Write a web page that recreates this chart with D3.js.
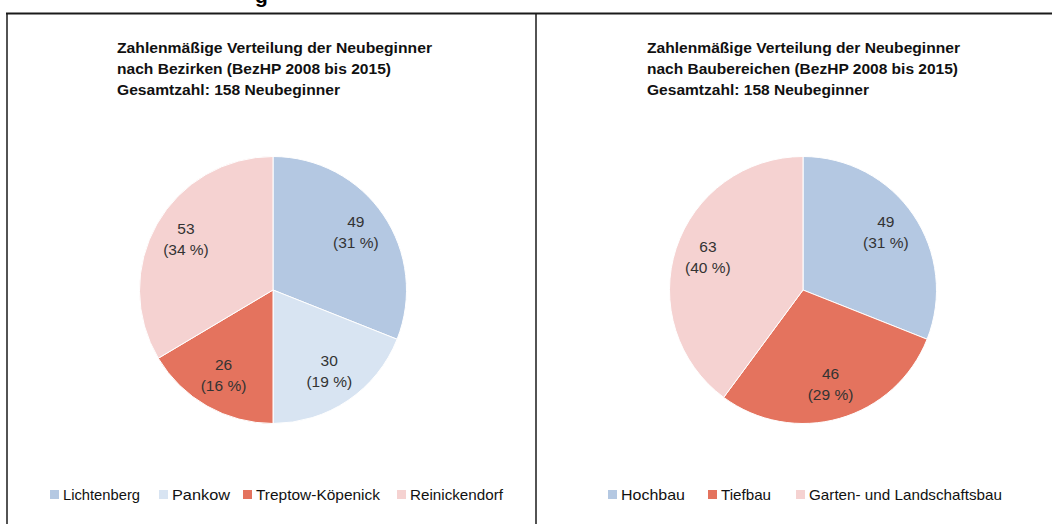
<!DOCTYPE html>
<html>
<head>
<meta charset="utf-8">
<script src="https://cdn.jsdelivr.net/npm/d3@7"></script>
<style>
  body { margin: 0; background: #fff; }
  text { font-family: Arial, "Liberation Sans", sans-serif; }
</style>
</head>
<body>
<script>
// data
let bezirke = ['Lichtenberg', 'Pankow', 'Treptow-Köpenick', 'Reinickendorf'];
let bezirkeWerte = [49, 30, 26, 53];
let bezirkeFarben = ['#b4c8e2', '#d8e4f2', '#e4735e', '#f5d2d1'];

let baubereiche = ['Hochbau', 'Tiefbau', 'Garten- und Landschaftsbau'];
let baubereicheWerte = [49, 46, 63];
let baubereicheFarben = ['#b4c8e2', '#e4735e', '#f5d2d1'];

let titelBezirke = [
  'Zahlenmäßige Verteilung der Neubeginner',
  'nach Bezirken (BezHP 2008 bis 2015)',
  'Gesamtzahl: 158 Neubeginner'
];
let titelBaubereiche = [
  'Zahlenmäßige Verteilung der Neubeginner',
  'nach Baubereichen (BezHP 2008 bis 2015)',
  'Gesamtzahl: 158 Neubeginner'
];

let dim = { width: 1052, height: 524 };
let svg = d3.select('body').append('svg')
  .attr('width', dim.width).attr('height', dim.height);

// cut-off heading above the table
svg.append('text')
  .attr('x', 255).attr('y', 3)
  .style('font-size', '21px').style('font-weight', 'bold')
  .text('g');

// table frame
svg.append('line').attr('x1', 6).attr('x2', 1052).attr('y1', 13.5).attr('y2', 13.5)
  .attr('stroke', '#1a1a1a').attr('stroke-width', 2);
svg.append('line').attr('x1', 7).attr('x2', 7).attr('y1', 13).attr('y2', 524)
  .attr('stroke', '#1a1a1a').attr('stroke-width', 1.5);
svg.append('line').attr('x1', 536).attr('x2', 536).attr('y1', 13).attr('y2', 524)
  .attr('stroke', '#1a1a1a').attr('stroke-width', 1.5);

function drawPie(opts) {
  let g = svg.append('g');
  // title
  let t = g.append('g').attr('transform', `translate(${opts.titleX}, 0)`);
  t.selectAll('text').data(opts.title).enter().append('text')
    .attr('x', 0)
    .attr('y', (d, i) => 53 + i * 21)
    .attr('textLength', (d, i) => opts.titleWidths[i])
    .attr('lengthAdjust', 'spacingAndGlyphs')
    .style('font-size', '14.5px').style('font-weight', 'bold')
    .attr('fill', '#111')
    .text(d => d);

  let total = d3.sum(opts.values);
  let data = opts.values.map((v, i) => ({ name: opts.names[i], value: v, color: opts.colors[i] }));
  let pie = d3.pie().value(d => d.value).sort(null);
  let r = 133.5;
  let arc = d3.arc().innerRadius(0).outerRadius(r);
  let labelArc = d3.arc().innerRadius(r * 0.75).outerRadius(r * 0.75);

  let pg = g.append('g').attr('transform', `translate(${opts.cx}, ${opts.cy})`);
  let arcs = pie(data);
  pg.selectAll('path').data(arcs).enter().append('path')
    .attr('d', arc)
    .attr('fill', d => d.data.color)
    .attr('stroke', '#fff').attr('stroke-width', 1);

  let lab = pg.selectAll('g.lab').data(arcs).enter().append('g')
    .attr('class', 'lab')
    .attr('transform', d => `translate(${labelArc.centroid(d)})`);
  lab.append('text')
    .attr('text-anchor', 'middle').attr('y', -7)
    .style('font-size', '15.5px').attr('fill', '#333')
    .text(d => d.data.value);
  lab.append('text')
    .attr('text-anchor', 'middle').attr('y', 14)
    .style('font-size', '15.5px').attr('fill', '#333')
    .text(d => `(${Math.round(d.data.value / total * 100)} %)`);

  // legend
  let lg = g.append('g').attr('transform', 'translate(0, 494)');
  let items = lg.selectAll('g').data(data).enter().append('g')
    .attr('transform', (d, i) => `translate(${opts.legendX[i]}, 0)`);
  items.append('rect')
    .attr('x', -13).attr('y', -4).attr('width', 9).attr('height', 9)
    .attr('fill', d => d.color);
  items.append('text')
    .attr('x', 0).attr('y', 6)
    .attr('textLength', (d, i) => opts.legendWidths[i])
    .attr('lengthAdjust', 'spacingAndGlyphs')
    .style('font-size', '15px').attr('fill', '#111')
    .text(d => d.name);
}

drawPie({
  title: titelBezirke, titleX: 117, titleWidths: [315, 274, 223],
  names: bezirke, values: bezirkeWerte, colors: bezirkeFarben,
  cx: 273, cy: 290,
  legendX: [63, 172, 256, 410], legendWidths: [77, 58, 124, 93]
});

drawPie({
  title: titelBaubereiche, titleX: 647, titleWidths: [313, 311, 222],
  names: baubereiche, values: baubereicheWerte, colors: baubereicheFarben,
  cx: 803, cy: 290,
  legendX: [621, 721, 809], legendWidths: [64, 50, 193]
});
</script>
</body>
</html>
